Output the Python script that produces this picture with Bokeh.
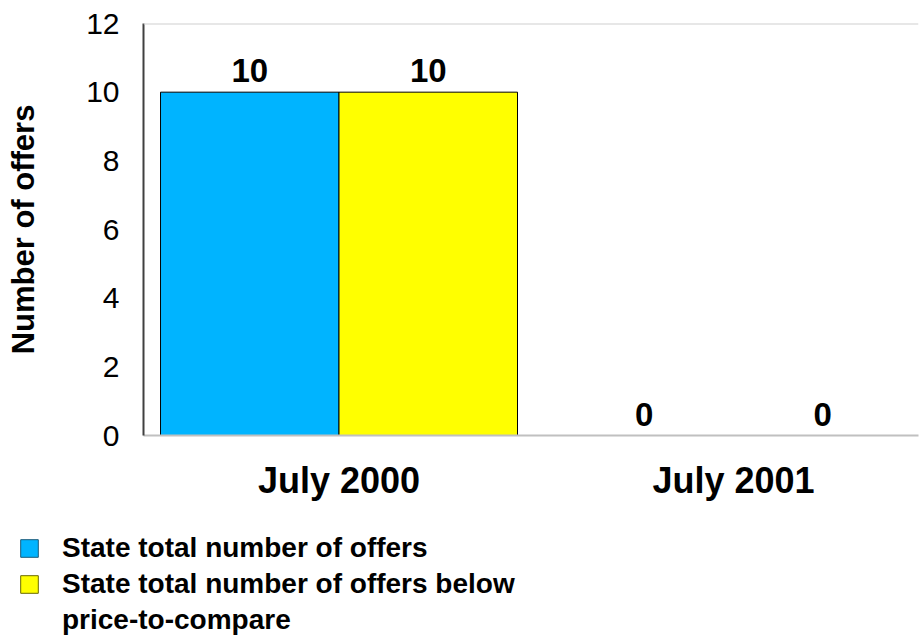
from bokeh.plotting import figure
from bokeh.layouts import column, row
from bokeh.models import (ColumnDataSource, Range1d, FixedTicker, LabelSet, Legend, LegendItem, Span)
from bokeh.transform import dodge
from bokeh.core.properties import value
from bokeh.embed import file_html
from bokeh.resources import INLINE

categories = ["July 2000", "July 2001"]
total_offers = [10, 0]
below_ptc = [10, 0]
series_names = ["State total number of offers",
                "State total number of offers below",
                "price-to-compare"]
series_colors = ["#00B4FF", "#FFFF00"]
y_ticks = [0, 2, 4, 6, 8, 10, 12]

FONT = "Liberation Sans"

src = ColumnDataSource(dict(
    x=list(range(len(categories))),
    total=total_offers,
    below=below_ptc,
    total_txt=[str(v) for v in total_offers],
    below_txt=[str(v) for v in below_ptc],
))

p = figure(width=919, height=510, output_backend="svg", toolbar_location=None,
           x_range=Range1d(-0.4956, 1.4689), y_range=Range1d(0, 12),
           min_border_left=143, min_border_right=1, min_border_top=23,
           min_border_bottom=75)
p.outline_line_color = None
p.xgrid.visible = False
p.ygrid.visible = False
p.background_fill_color = "white"

off = 0.2262
w = 0.4525
r1 = p.vbar(x=dodge("x", -off, range=p.x_range), top="total", bottom=0, width=w,
            source=src, fill_color=series_colors[0], line_color="black", line_width=1)
r2 = p.vbar(x=dodge("x", off, range=p.x_range), top="below", bottom=0, width=w,
            source=src, fill_color=series_colors[1], line_color="black", line_width=1)

for col, d in (("total_txt", -off), ("below_txt", off)):
    lab = LabelSet(x=dodge("x", d, range=p.x_range), y=col.replace("_txt", ""), text=col,
                   source=src, text_align="center", text_baseline="alphabetic",
                   y_offset=10, text_font=value(FONT), text_font_style="bold",
                   text_font_size="33px", text_color="black")
    p.add_layout(lab)

p.add_layout(Span(location=12, dimension="width", line_color="#d0d0d0", line_width=2))

# y axis
ya = p.yaxis[0]
ya.ticker = FixedTicker(ticks=y_ticks)
ya.axis_line_color = "#404040"
ya.axis_line_width = 2
ya.major_tick_line_color = None
ya.minor_tick_line_color = None
ya.major_tick_out = 0
ya.major_label_standoff = 24
ya.major_label_text_font = FONT
ya.major_label_text_font_size = "30px"
ya.major_label_text_color = "black"
ya.axis_label = "Number of offers"
ya.axis_label_text_font = FONT
ya.axis_label_text_font_style = "bold"
ya.axis_label_text_font_size = "31px"
ya.axis_label_text_color = "black"
ya.axis_label_standoff = 42

# x axis
xa = p.xaxis[0]
xa.ticker = FixedTicker(ticks=list(range(len(categories))))
xa.major_label_overrides = {i: c for i, c in enumerate(categories)}
xa.axis_line_color = "#c0c0c0"
xa.axis_line_width = 2
xa.major_tick_line_color = None
xa.minor_tick_line_color = None
xa.major_tick_out = 0
xa.major_label_standoff = 24
xa.major_label_text_font = FONT
xa.major_label_text_font_style = "bold"
xa.major_label_text_font_size = "36px"
xa.major_label_text_color = "black"

# legend figure (swatches drawn from renderers whose data lie outside the view)
lf = figure(width=919, height=125, output_backend="svg", toolbar_location=None,
            x_range=Range1d(0, 1), y_range=Range1d(0, 1),
            min_border=0, min_border_left=0, min_border_right=0,
            min_border_top=0, min_border_bottom=0)
lf.axis.visible = False
lf.grid.visible = False
lf.outline_line_color = None
hidden = ColumnDataSource(dict(x=[5], top=[6], bottom=[5]))
lr1 = lf.vbar(x="x", top="top", bottom="bottom", width=0.1, source=hidden,
              fill_color=series_colors[0], line_color="#1a5a7a", line_width=1)
lr2 = lf.vbar(x="x", top="top", bottom="bottom", width=0.1, source=hidden,
              fill_color=series_colors[1], line_color="#6a6a00", line_width=1)
lr3 = lf.vbar(x="x", top="top", bottom="bottom", width=0.1, source=hidden,
              fill_alpha=0, line_alpha=0)
legend = Legend(items=[LegendItem(label=series_names[0], renderers=[lr1]),
                       LegendItem(label=series_names[1], renderers=[lr2]),
                       LegendItem(label=series_names[2], renderers=[lr3])],
                location=(18, -1), orientation="vertical",
                glyph_width=22, glyph_height=22, label_standoff=22,
                label_text_font=FONT, label_text_font_style="bold",
                label_text_font_size="28px", label_text_color="black",
                label_height=31, spacing=4, padding=0, margin=0,
                border_line_color=None, background_fill_alpha=0)
lf.add_layout(legend, "center")

layout = column(row(p), row(lf), spacing=0)
open("out.html", "w").write(file_html(layout, INLINE))
